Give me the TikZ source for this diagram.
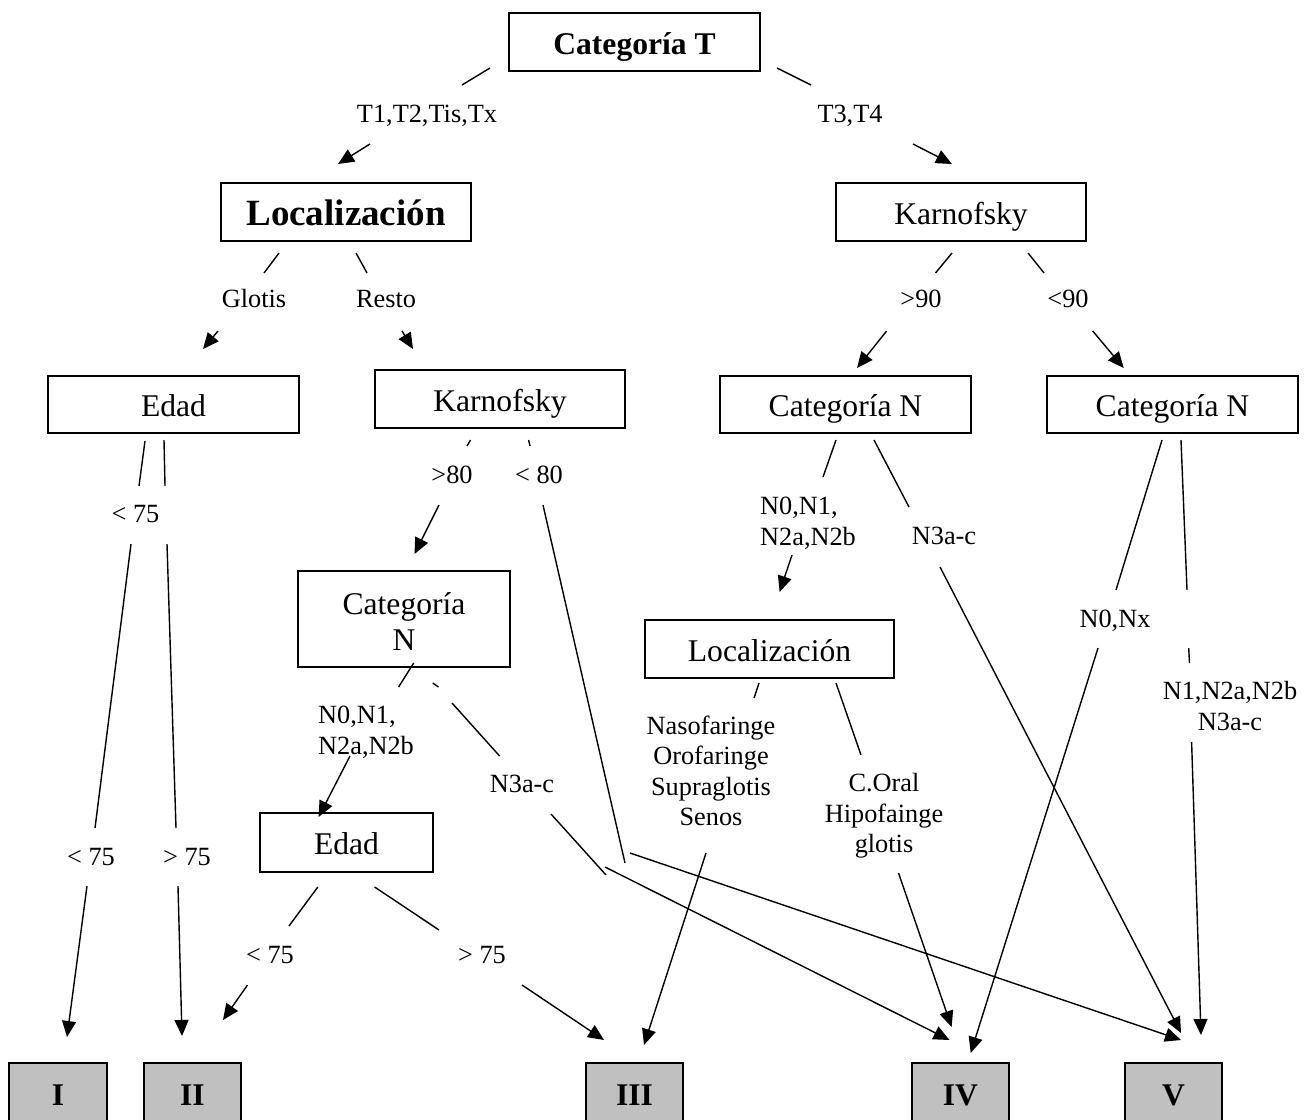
\documentclass[tikz,border=0pt]{standalone}
\usepackage{fontspec}
\setmainfont{Liberation Serif}
\usetikzlibrary{arrows.meta}
\definecolor{boxgray}{HTML}{C0C0C0}
\tikzset{
  box/.style={draw, line width=1.7pt, inner sep=0pt, align=center, text height=24pt, text depth=0pt, font=\fontsize{31.6}{36}\selectfont},
  res/.style={box, fill=boxgray, font=\fontsize{31.6}{36}\selectfont\bfseries},
  lbl/.style={inner sep=0pt, align=center, text height=18pt, text depth=0pt, font=\fontsize{26.3}{30.6}\selectfont},
  seg/.style={line width=1.4pt},
  arr/.style={line width=1.4pt, -{Triangle[length=16pt,width=14pt]}}
}
\begin{document}
\begin{tikzpicture}[x=1pt,y=-1pt]
\path[use as bounding box] (0,0) rectangle (1316,1119);
\clip (0,0) rectangle (1316,1119);
\fill[white] (0,0) rectangle (1316,1119);
% boxes
\node[box, minimum width=251pt, minimum height=58pt, font=\fontsize{31.6}{36}\selectfont\bfseries] (catT) at (634.5,42) {Categoría T};
\node[box, minimum width=250pt, minimum height=58pt, text height=26pt, font=\fontsize{37}{42}\selectfont\bfseries] (loc1) at (346,212) {Localización};
\node[box, minimum width=250pt, minimum height=58pt] (karR) at (961,212) {Karnofsky};
\node[box, minimum width=251pt, minimum height=57pt] (edad1) at (173.5,404.5) {Edad};
\node[box, minimum width=250pt, minimum height=58pt] (karM) at (500,399) {Karnofsky};
\node[box, minimum width=212pt, minimum height=96pt, text height=62pt, text depth=0pt] (catNM) at (404,619) {Categoría\\N};
\node[box, minimum width=251pt, minimum height=57pt] (catNR1) at (845.5,404.5) {Categoría N};
\node[box, minimum width=251pt, minimum height=57pt] (catNR2) at (1172.5,404.5) {Categoría N};
\node[box, minimum width=249pt, minimum height=58pt] (loc2) at (769.5,649) {Localización};
\node[box, minimum width=173pt, minimum height=59pt] (edad2) at (346.5,842.5) {Edad};
\node[res, minimum width=98pt, minimum height=60pt] (rI) at (58,1093) {I};
\node[res, minimum width=97pt, minimum height=60pt] (rII) at (192.5,1093) {II};
\node[res, minimum width=97pt, minimum height=60pt] (rIII) at (634.5,1093) {III};
\node[res, minimum width=97pt, minimum height=60pt] (rIV) at (960.5,1093) {IV};
\node[res, minimum width=97pt, minimum height=60pt] (rV) at (1173.5,1093) {V};
% labels
\node[lbl] (lT12) at (427,113) {T1,T2,Tis,Tx};
\node[lbl] (lT34) at (850,113) {T3,T4};
\node[lbl] (lGlo) at (254,298) {Glotis};
\node[lbl] (lRes) at (386,298) {Resto};
\node[lbl] (l90a) at (921,298) {>90};
\node[lbl] (l90b) at (1068,298) {<90};
\node[lbl] (l75a) at (135.5,513) {< 75};
\node[lbl] (l80a) at (452,474) {>80};
\node[lbl] (l80b) at (539,474) {< 80};
\node[lbl] (l75b) at (91,856) {< 75};
\node[lbl] (l75c) at (187,856) {> 75};
\node[lbl, align=left, anchor=west, text height=48.6pt] (lNM) at (318,730) {N0,N1,\\N2a,N2b};
\node[lbl] (lN3M) at (522,783) {N3a-c};
\node[lbl] (l75d) at (270,954) {< 75};
\node[lbl] (l75e) at (482,954) {> 75};
\node[lbl, align=left, anchor=west, text height=48.6pt] (lNR1) at (760,521) {N0,N1,\\N2a,N2b};
\node[lbl] (lN3R) at (944,535) {N3a-c};
\node[lbl] (lN0Nx) at (1115,618) {N0,Nx};
\node[lbl, text height=48.6pt] (lN1R) at (1230,706) {N1,N2a,N2b\\N3a-c};
\node[lbl, text height=109.8pt] (lNaso) at (711,771) {Nasofaringe\\Orofaringe\\Supraglotis\\Senos};
\node[lbl, text height=79.2pt] (lCoral) at (884,813) {C.Oral\\Hipofainge\\glotis};
% connector end points
\coordinate (s1a) at (490,68);   \coordinate (s1b) at (462,85);
\coordinate (a1a) at (370,144);  \coordinate (a1b) at (338,164);
\coordinate (s2a) at (777,68);   \coordinate (s2b) at (811,85);
\coordinate (a2a) at (913,144);  \coordinate (a2b) at (952,164);
\coordinate (s3a) at (279,253);  \coordinate (s3b) at (264,273);
\coordinate (a3a) at (218,331);  \coordinate (a3b) at (203,349);
\coordinate (s4a) at (356,253);  \coordinate (s4b) at (367,273);
\coordinate (a4a) at (402,331);  \coordinate (a4b) at (413,349);
\coordinate (s5a) at (952,253);  \coordinate (s5b) at (935.5,273);
\coordinate (a5a) at (886.6,331); \coordinate (a5b) at (857,368);
\coordinate (s6a) at (1028,253); \coordinate (s6b) at (1044,273);
\coordinate (a6a) at (1092.7,331); \coordinate (a6b) at (1123.7,368);
\coordinate (s7a) at (145,441);  \coordinate (s7b) at (139,486);
\coordinate (s7c) at (131,544);  \coordinate (s7d) at (95,828);
\coordinate (a7a) at (87,886);   \coordinate (a7b) at (67,1037);
\coordinate (s8a) at (164,440);  \coordinate (s8b) at (165,486);
\coordinate (s8c) at (167,544);  \coordinate (s8d) at (176,828);
\coordinate (a8a) at (178,886);  \coordinate (a8b) at (182,1036);
\coordinate (s9a) at (470.5,440); \coordinate (s9b) at (467,446);
\coordinate (a9a) at (439,505);  \coordinate (a9b) at (414.5,554);
\coordinate (s10a) at (528.6,440); \coordinate (s10b) at (530,446);
\coordinate (s10c) at (543,505); \coordinate (s10d) at (625,863);
\coordinate (a10a) at (630,853); \coordinate (a10b) at (1181,1040);
\coordinate (s11a) at (413.7,663); \coordinate (s11b) at (398.6,687);
\coordinate (a11a) at (350,756); \coordinate (a11b) at (318.6,817);
\coordinate (s12a) at (432.7,683); \coordinate (s12b) at (438.5,687);
\coordinate (s12c) at (452,703); \coordinate (s12d) at (499.6,756);
\coordinate (s12e) at (551,814); \coordinate (s12f) at (606,875);
\coordinate (a12a) at (605,867); \coordinate (a12b) at (949.5,1040);
\coordinate (s13a) at (317.8,887); \coordinate (s13b) at (289,926);
\coordinate (a13a) at (247.5,985); \coordinate (a13b) at (223,1020);
\coordinate (s14a) at (374.6,887); \coordinate (s14b) at (439,930);
\coordinate (a14a) at (522,985); \coordinate (a14b) at (604,1040);
\coordinate (s15a) at (836,440); \coordinate (s15b) at (823,477);
\coordinate (a15a) at (792,555); \coordinate (a15b) at (779.6,592);
\coordinate (s16a) at (874,440); \coordinate (s16b) at (909,507);
\coordinate (a16a) at (940,567); \coordinate (a16b) at (1181,1033);
\coordinate (s17a) at (1162,440); \coordinate (s17b) at (1116,590);
\coordinate (a17a) at (1098,648); \coordinate (a17b) at (970.7,1053);
\coordinate (s18a) at (1181,440); \coordinate (s18b) at (1187,590);
\coordinate (s18c) at (1188.7,648); \coordinate (s18d) at (1189.5,663);
\coordinate (a18a) at (1191.6,742); \coordinate (a18b) at (1201,1035);
\coordinate (s19a) at (759,683); \coordinate (s19b) at (754,698);
\coordinate (a19a) at (706,853); \coordinate (a19b) at (644,1045);
\coordinate (s20a) at (836,683); \coordinate (s20b) at (861,755);
\coordinate (a20a) at (898.5,873); \coordinate (a20b) at (951.6,1027);
% connectors
\draw[seg] (s1a) -- (s1b);  \draw[arr] (a1a) -- (a1b);
\draw[seg] (s2a) -- (s2b);  \draw[arr] (a2a) -- (a2b);
\draw[seg] (s3a) -- (s3b);  \draw[arr] (a3a) -- (a3b);
\draw[seg] (s4a) -- (s4b);  \draw[arr] (a4a) -- (a4b);
\draw[seg] (s5a) -- (s5b);  \draw[arr] (a5a) -- (a5b);
\draw[seg] (s6a) -- (s6b);  \draw[arr] (a6a) -- (a6b);
\draw[seg] (s7a) -- (s7b);  \draw[seg] (s7c) -- (s7d);  \draw[arr] (a7a) -- (a7b);
\draw[seg] (s8a) -- (s8b);  \draw[seg] (s8c) -- (s8d);  \draw[arr] (a8a) -- (a8b);
\draw[seg] (s9a) -- (s9b);  \draw[arr] (a9a) -- (a9b);
\draw[seg] (s10a) -- (s10b); \draw[seg] (s10c) -- (s10d); \draw[arr] (a10a) -- (a10b);
\draw[seg] (s11a) -- (s11b); \draw[arr] (a11a) -- (a11b);
\draw[seg] (s12a) -- (s12b); \draw[seg] (s12c) -- (s12d); \draw[seg] (s12e) -- (s12f); \draw[arr] (a12a) -- (a12b);
\draw[seg] (s13a) -- (s13b); \draw[arr] (a13a) -- (a13b);
\draw[seg] (s14a) -- (s14b); \draw[arr] (a14a) -- (a14b);
\draw[seg] (s15a) -- (s15b); \draw[arr] (a15a) -- (a15b);
\draw[seg] (s16a) -- (s16b); \draw[arr] (a16a) -- (a16b);
\draw[seg] (s17a) -- (s17b); \draw[arr] (a17a) -- (a17b);
\draw[seg] (s18a) -- (s18b); \draw[seg] (s18c) -- (s18d); \draw[arr] (a18a) -- (a18b);
\draw[seg] (s19a) -- (s19b); \draw[arr] (a19a) -- (a19b);
\draw[seg] (s20a) -- (s20b); \draw[arr] (a20a) -- (a20b);
\end{tikzpicture}
\end{document}
